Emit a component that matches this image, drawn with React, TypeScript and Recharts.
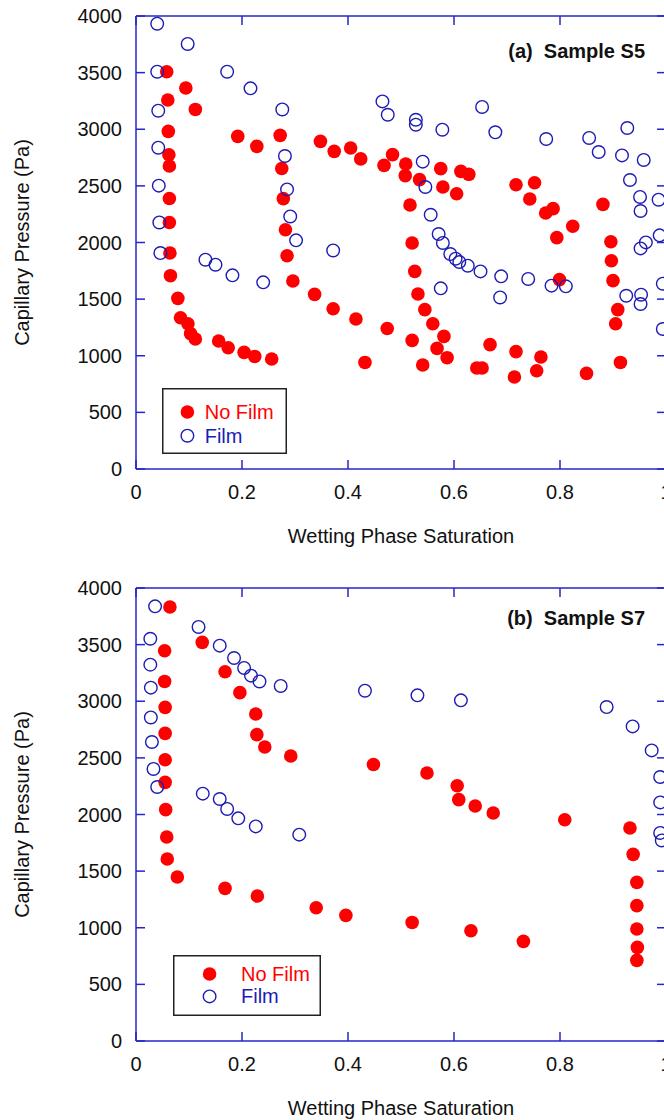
import { Legend, ReferenceLine, Scatter, ScatterChart, XAxis, YAxis } from "recharts";

const xTicks = [0, 0.2, 0.4, 0.6, 0.8, 1];
const yTicks = [0, 500, 1000, 1500, 2000, 2500, 3000, 3500, 4000];
const seriesNames = ["No Film", "Film"];

// Sample S5, no film
const s5NoFilmSw = [
  0.058, 0.094, 0.06, 0.112, 0.061, 0.062, 0.063, 0.063, 0.063, 0.064, 0.065,
  0.079, 0.084, 0.098, 0.103, 0.112, 0.156, 0.174, 0.204, 0.224, 0.256, 0.192,
  0.228, 0.272, 0.275, 0.278, 0.282, 0.285, 0.296, 0.337, 0.372, 0.348, 0.374,
  0.405, 0.424, 0.468, 0.484, 0.509, 0.508, 0.535, 0.575, 0.579, 0.605, 0.613,
  0.628, 0.517, 0.521, 0.526, 0.532, 0.545, 0.56, 0.581, 0.568, 0.587, 0.541,
  0.521, 0.415, 0.474, 0.432, 0.643, 0.653, 0.668, 0.717, 0.714, 0.756, 0.764,
  0.85, 0.914, 0.909, 0.905, 0.717, 0.752, 0.743, 0.773, 0.787, 0.824, 0.794,
  0.799, 0.881, 0.896, 0.897, 0.9,
];
const s5NoFilmPc = [
  3508, 3364, 3258, 3175, 2981, 2775, 2675, 2389, 2177, 1907, 1707, 1507, 1336,
  1283, 1195, 1148, 1130, 1071, 1030, 994, 971, 2937, 2849, 2946, 2654, 2387,
  2113, 1883, 1660, 1542, 1415, 2893, 2805, 2835, 2738, 2681, 2776, 2693, 2590,
  2555, 2652, 2490, 2431, 2628, 2602, 2331, 1996, 1745, 1545, 1407, 1283, 1171,
  1065, 983, 918, 1136, 1325, 1241, 941, 892, 892, 1098, 1036, 812, 868, 989,
  844, 941, 1407, 1283, 2510, 2528, 2384, 2261, 2299, 2143, 2043, 1672, 2337,
  2007, 1839, 1663,
];

// Sample S5, film
const s5FilmSw = [
  0.04, 0.0975, 0.04, 0.172, 0.216, 0.042, 0.276, 0.042, 0.281, 0.043, 0.285,
  0.044, 0.291, 0.046, 0.302, 0.372, 0.131, 0.15, 0.182, 0.24, 0.465, 0.475,
  0.528, 0.528, 0.578, 0.653, 0.678, 0.774, 0.855, 0.873, 0.927, 0.917, 0.958,
  0.932, 0.951, 0.952, 0.986, 0.988, 0.962, 0.952, 0.541, 0.546, 0.556, 0.571,
  0.579, 0.593, 0.603, 0.61, 0.626, 0.65, 0.689, 0.74, 0.575, 0.687, 0.784,
  0.811, 0.925, 0.953, 0.952, 0.994, 0.994,
];
const s5FilmPc = [
  3932, 3753, 3508, 3508, 3361, 3164, 3175, 2837, 2764, 2502, 2469, 2177, 2230,
  1907, 2019, 1930, 1848, 1804, 1710, 1648, 3246, 3128, 3084, 3040, 2996, 3197,
  2973, 2914, 2923, 2799, 3011, 2769, 2729, 2552, 2402, 2278, 2378, 2063, 2001,
  1948, 2714, 2490, 2245, 2075, 1996, 1898, 1857, 1828, 1795, 1745, 1701, 1678,
  1595, 1515, 1619, 1613, 1530, 1539, 1457, 1636, 1236,
];

// Sample S7, no film
const s7NoFilmSw = [
  0.064, 0.054, 0.054, 0.055, 0.055, 0.055, 0.055, 0.056, 0.058, 0.059, 0.078,
  0.168, 0.229, 0.34, 0.396, 0.521, 0.632, 0.731, 0.125, 0.168, 0.196, 0.226,
  0.228, 0.243, 0.292, 0.448, 0.549, 0.606, 0.609, 0.64, 0.674, 0.809, 0.932,
  0.938, 0.945, 0.945, 0.945, 0.946, 0.945,
];
const s7NoFilmPc = [
  3832, 3446, 3175, 2946, 2716, 2484, 2284, 2043, 1801, 1607, 1448, 1348, 1280,
  1177, 1109, 1047, 974, 880, 3520, 3261, 3076, 2888, 2705, 2596, 2517, 2442,
  2366, 2254, 2131, 2075, 2013, 1954, 1881, 1648, 1401, 1195, 989, 827, 712,
];

// Sample S7, film
const s7FilmSw = [
  0.036, 0.027, 0.027, 0.028, 0.028, 0.03, 0.033, 0.04, 0.118, 0.158, 0.185,
  0.204, 0.217, 0.233, 0.273, 0.126, 0.158, 0.172, 0.193, 0.226, 0.308, 0.432,
  0.531, 0.613, 0.888, 0.937, 0.973, 0.989, 0.989, 0.989, 0.992,
];
const s7FilmPc = [
  3838, 3552, 3323, 3120, 2857, 2640, 2402, 2243, 3656, 3491, 3382, 3294, 3226,
  3175, 3135, 2184, 2137, 2049, 1966, 1895, 1822, 3093, 3052, 3008, 2949, 2778,
  2566, 2331, 2107, 1837, 1771,
];

const zip = (sw: number[], pc: number[]) => sw.map((x, i) => ({ x, y: pc[i] }));

const RED = "#ff0000";
const BLUE = "#1c1cb4";
const AXIS = "#2626c6";
const FONT = '"Liberation Sans", Arial, Helvetica, sans-serif';

const CHART_W = 700;
const PLOT_W = 530;
const PLOT_H = 453;
const TOP = 8;
const Y_AXIS_W = 128;
const X_AXIS_H = 80;
const CHART_H = TOP + PLOT_H + X_AXIS_H;
const TICK_SIZE = 8;
const TICK_MARGIN = 2;
const INNER_TICK = 9;

function XTick({ x, y, payload }: any) {
  const axisY = y - TICK_SIZE - TICK_MARGIN;
  return (
    <g>
      <line x1={x} x2={x} y1={axisY} y2={axisY - INNER_TICK} stroke={AXIS} strokeWidth={1.5} />
      <line x1={x} x2={x} y1={axisY - PLOT_H} y2={axisY - PLOT_H + INNER_TICK} stroke={AXIS} strokeWidth={1.5} />
      <text x={x} y={axisY + 29.5} textAnchor="middle" fontSize={20} fill="#111">
        {String(payload.value)}
      </text>
    </g>
  );
}

function YTick({ x, y, payload }: any) {
  const axisX = x + TICK_SIZE + TICK_MARGIN;
  return (
    <g>
      <line x1={axisX} x2={axisX + INNER_TICK} y1={y} y2={y} stroke={AXIS} strokeWidth={1.5} />
      <line x1={axisX + PLOT_W} x2={axisX + PLOT_W - INNER_TICK} y1={y} y2={y} stroke={AXIS} strokeWidth={1.5} />
      <text x={axisX - 14} y={y + 7} textAnchor="end" fontSize={20} fill="#111">
        {String(payload.value)}
      </text>
    </g>
  );
}

const noFilmDot = (p: any) => <circle cx={p.cx} cy={p.cy} r={6.8} fill={RED} />;
const filmDot = (p: any) => (
  <circle cx={p.cx} cy={p.cy} r={6.3} fill="none" stroke={BLUE} strokeWidth={1.4} />
);

type LegendLayout = {
  w: number;
  h: number;
  cx: number;
  rows: number[];
  tx: number;
};

function LegendBox({ payload, layout }: any) {
  const l: LegendLayout = layout;
  // keep the reference order: No Film first, then Film
  const items = (payload ?? [])
    .map((p: any) => p.value)
    .sort((a: string, b: string) => seriesNames.indexOf(a) - seriesNames.indexOf(b));
  return (
    <svg width={l.w} height={l.h} style={{ display: "block" }}>
      <rect x={0.75} y={0.75} width={l.w - 1.5} height={l.h - 1.5} fill="#fff" stroke="#222" strokeWidth={1.5} />
      {items.map((name: string, i: number) => {
        const film = name === seriesNames[1];
        const cy = l.rows[i];
        return (
          <g key={name}>
            {film ? (
              <circle cx={l.cx} cy={cy} r={6.3} fill="none" stroke={BLUE} strokeWidth={1.4} />
            ) : (
              <circle cx={l.cx} cy={cy} r={6.8} fill={RED} />
            )}
            <text x={l.tx} y={cy + 7} fontSize={20} fill={film ? BLUE : RED} fontFamily={FONT}>
              {name}
            </text>
          </g>
        );
      })}
    </svg>
  );
}

type PanelProps = {
  top: number;
  title: string;
  titleTop: number;
  noFilm: { x: number; y: number }[];
  film: { x: number; y: number }[];
  legendPos: { left: number; top: number };
  legendLayout: LegendLayout;
};

function Panel({ top, title, titleTop, noFilm, film, legendPos, legendLayout }: PanelProps) {
  return (
    <div style={{ position: "absolute", left: 8, top }}>
      <ScatterChart
        width={CHART_W}
        height={CHART_H}
        margin={{ top: TOP, right: CHART_W - Y_AXIS_W - PLOT_W, bottom: 0, left: 0 }}
        style={{ fontFamily: FONT }}
      >
        <XAxis
          type="number"
          dataKey="x"
          domain={[0, 1]}
          ticks={xTicks}
          height={X_AXIS_H}
          tickSize={TICK_SIZE}
          tickMargin={TICK_MARGIN}
          tickLine={false}
          tick={<XTick />}
          axisLine={{ stroke: AXIS, strokeWidth: 1.5 }}
          interval={0}
          label={{
            value: "Wetting Phase Saturation",
            position: "insideTop",
            offset: 60,
            fontSize: 20,
            fill: "#111",
          }}
        />
        <YAxis
          type="number"
          dataKey="y"
          domain={[0, 4000]}
          ticks={yTicks}
          width={Y_AXIS_W}
          tickSize={TICK_SIZE}
          tickMargin={TICK_MARGIN}
          tickLine={false}
          tick={<YTick />}
          axisLine={{ stroke: AXIS, strokeWidth: 1.5 }}
          interval={0}
          label={{
            value: "Capillary Pressure (Pa)",
            angle: -90,
            position: "insideLeft",
            offset: 14,
            fontSize: 20,
            fill: "#111",
            style: { textAnchor: "middle" },
          }}
        />
        <ReferenceLine y={4000} stroke={AXIS} strokeWidth={1.5} />
        <ReferenceLine x={1} stroke={AXIS} strokeWidth={1.5} />
        <Scatter name={seriesNames[0]} data={noFilm} fill={RED} shape={noFilmDot} isAnimationActive={false} />
        <Scatter name={seriesNames[1]} data={film} fill={BLUE} shape={filmDot} isAnimationActive={false} />
        <Legend
          layout="vertical"
          align="center"
          verticalAlign="middle"
          wrapperStyle={{ left: legendPos.left, top: legendPos.top, width: legendLayout.w, height: legendLayout.h }}
          content={(props: any) => <LegendBox payload={props.payload} layout={legendLayout} />}
        />
      </ScatterChart>
      <div
        style={{
          position: "absolute",
          left: 0,
          top: titleTop,
          width: 637,
          textAlign: "right",
          fontFamily: FONT,
          fontSize: 20,
          fontWeight: "bold",
          lineHeight: "20px",
          whiteSpace: "pre",
          color: "#111",
        }}
      >
        {title}
      </div>
    </div>
  );
}

export default function App() {
  return (
    <div
      style={{
        position: "relative",
        width: 664,
        height: 1120,
        overflow: "hidden",
        fontFamily: FONT,
      }}
    >
      <style>{"body { margin: 0; }"}</style>
      <Panel
        top={8}
        title="(a)  Sample S5"
        titleTop={32.6}
        noFilm={zip(s5NoFilmSw, s5NoFilmPc)}
        film={zip(s5FilmSw, s5FilmPc)}
        legendPos={{ left: 154.3, top: 380.3 }}
        legendLayout={{ w: 125, h: 66, cx: 25.4, rows: [24, 47.7], tx: 42.7 }}
      />
      <Panel
        top={580}
        title="(b)  Sample S7"
        titleTop={28.1}
        noFilm={zip(s7NoFilmSw, s7NoFilmPc)}
        film={zip(s7FilmSw, s7FilmPc)}
        legendPos={{ left: 164.7, top: 375.3 }}
        legendLayout={{ w: 148, h: 61, cx: 36.6, rows: [19, 41.4], tx: 68 }}
      />
    </div>
  );
}
